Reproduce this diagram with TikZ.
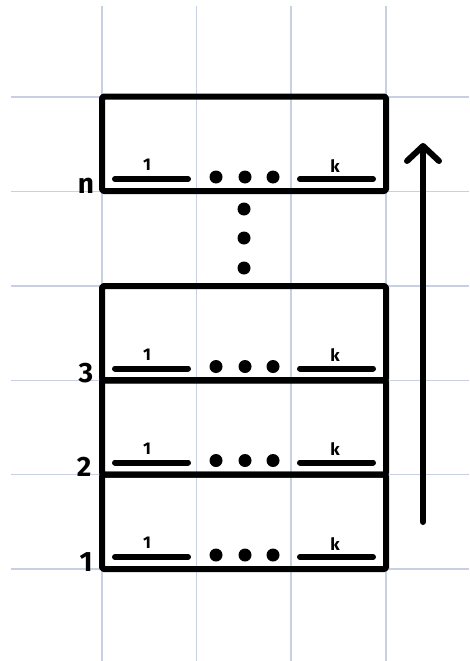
\documentclass[tikz,border=0pt]{standalone}
\usepackage{fontspec}
\setmainfont{Fira Sans}
\usetikzlibrary{arrows.meta}
\definecolor{gridcol}{RGB}{200,208,228}
\tikzset{
  gridline/.style={draw=gridcol, line width=1.2pt},
  rowbox/.style={draw=black, line width=6pt, line join=round, rounded corners=1.5pt},
  slotbar/.style={draw=black, line width=6pt, line cap=round},
  dotmark/.style={circle, fill=black, inner sep=0pt, minimum size=13pt},
  slotlabel/.style={font=\fontsize{17}{17}\selectfont\bfseries, inner sep=0pt},
  rowlabel/.style={font=\fontsize{28}{28}\selectfont\bfseries, inner sep=0pt},
  uparrow/.style={draw=black, line width=6pt, line cap=round,
    -{Straight Barb[length=15pt, width=32pt, line width=6pt, round]}}
}
\begin{document}
\begin{tikzpicture}[x=1pt, y=-1pt]
  \useasboundingbox (0,0) rectangle (469,661);
  % background grid
  \foreach \gx in {102,196.5,291,386}
    \draw[gridline] (\gx,6) -- (\gx,661);
  \foreach \gy in {97,191.5,286,380.5,474.5,569}
    \draw[gridline] (11,\gy) -- (469,\gy);

  % one row of k slots: bottom edge \b
  \foreach \b/\id in {191/n, 380.5/c, 474.5/b, 569/a} {
    \draw[rowbox] (102,\b-94.5) rectangle (386,\b);
    \draw[slotbar] (115,\b-12) -- (188,\b-12);
    \draw[slotbar] (300,\b-12) -- (373,\b-12);
    \node[slotlabel] (one\id) at (147,\b-26) {1};
    \node[slotlabel] (k\id) at (335,\b-25) {k};
    \node[dotmark] (d1\id) at (216,\b-14) {};
    \node[dotmark] (d2\id) at (245,\b-14) {};
    \node[dotmark] (d3\id) at (273,\b-14) {};
  }
  \node[rowlabel, anchor=base] (labn) at (86,193) {n};
  \node[rowlabel, anchor=base] (lab3) at (86,382) {3};
  \node[rowlabel, anchor=base] (lab2) at (84,476) {2};
  \node[rowlabel, anchor=base] (lab1) at (86,571) {1};

  % vertical ellipsis between row 3 and row n
  \node[dotmark] (vd1) at (244,209) {};
  \node[dotmark] (vd2) at (244,238) {};
  \node[dotmark] (vd3) at (244,268) {};

  % direction of growth
  \coordinate (arrbot) at (423,522);
  \coordinate (arrtop) at (423,143);
  \draw[uparrow] (arrbot) -- (arrtop);
\end{tikzpicture}
\end{document}
